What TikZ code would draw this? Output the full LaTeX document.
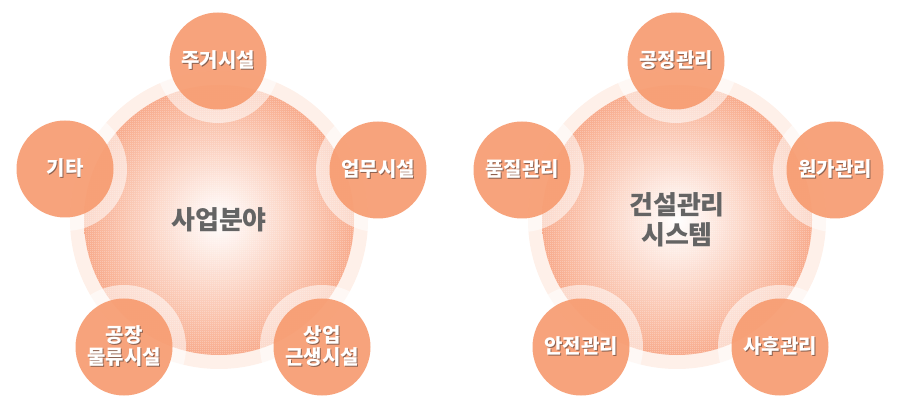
\documentclass[tikz,border=0pt]{standalone}
\usepackage{fontspec}
\setmainfont{Noto Sans CJK KR}
\usetikzlibrary{positioning, patterns, backgrounds}

\definecolor{petalfill}{RGB}{247,154,110}
\definecolor{petalshade}{RGB}{120,70,50}
\definecolor{ringpale}{RGB}{254,240,233}
\definecolor{hubedge}{RGB}{248,168,136}
\definecolor{hubtext}{RGB}{100,100,100}

\pgfdeclarepatternformonly{checker}{\pgfqpoint{0pt}{0pt}}{\pgfqpoint{2pt}{2pt}}{\pgfqpoint{2pt}{2pt}}%
{\pgfpathrectangle{\pgfqpoint{0pt}{0pt}}{\pgfqpoint{1pt}{1pt}}%
 \pgfpathrectangle{\pgfqpoint{1pt}{1pt}}{\pgfqpoint{1pt}{1pt}}%
 \pgfusepath{fill}}

\newcommand{\txtshade}[1]{\leavevmode\rlap{\kern1pt\raisebox{-1pt}{\textcolor{petalshade!85}{#1}}}#1}

\begin{document}
\begin{tikzpicture}[
    x=1pt, y=1pt,
    petal/.style={circle, fill=petalfill, fill opacity=.9, text opacity=1,
                  minimum size=97pt, inner sep=0pt, text=white, align=center,
                  font=\fontsize{20}{22}\selectfont\bfseries},
    hubring/.style={circle, fill=ringpale, minimum size=298pt, inner sep=0pt},
    hub/.style={circle, minimum size=270pt, inner sep=0pt,
                inner color=white, outer color=hubedge,
                postaction={pattern=checker, pattern color=white, fill opacity=.45}},
    hubtitle/.style={text=hubtext, align=center,
                     font=\fontsize{26}{30}\selectfont\bfseries},
    halo/.style={white, fill opacity=.55}
]
\useasboundingbox (0,0) rectangle (907,407);

% left: business fields
\coordinate (fieldc) at (219,187);
\node[hubtitle] (fieldtitle) at (fieldc) {사업분야};
\node[petal] (housing)  at (218,346) {\txtshade{주거시설}};
\node[petal] (other)    at (65,238)  {\txtshade{기타}};
\node[petal] (office)   at (378,237) {\txtshade{업무시설}};
\node[petal] (factory)  at (124,60)  {\txtshade{공장}\\\txtshade{물류시설}};
\node[petal] (retail)   at (322,60)  {\txtshade{상업}\\\txtshade{근생시설}};

% right: construction management system
\coordinate (mgmtc) at (677,187);
\node[hubtitle] (mgmttitle) at (mgmtc) {건설관리\\시스템};
\node[petal] (process)  at (676,346) {\txtshade{공정관리}};
\node[petal] (quality)  at (522,237) {\txtshade{품질관리}};
\node[petal] (cost)     at (835,237) {\txtshade{원가관리}};
\node[petal] (safety)   at (581,60)  {\txtshade{안전관리}};
\node[petal] (aftercare) at (780,60) {\txtshade{사후관리}};

\begin{scope}[on background layer]
  \node[hubring] (fieldring) at (fieldc) {};
  \node[hub] (fieldhub) at (fieldc) {};
  \node[hubring] (mgmtring) at (mgmtc) {};
  \node[hub] (mgmthub) at (mgmtc) {};
  \foreach \p in {housing, other, office, factory, retail,
                  process, quality, cost, safety, aftercare}
    \fill[halo] (\p.center) circle (62);
\end{scope}
\end{tikzpicture}
\end{document}
